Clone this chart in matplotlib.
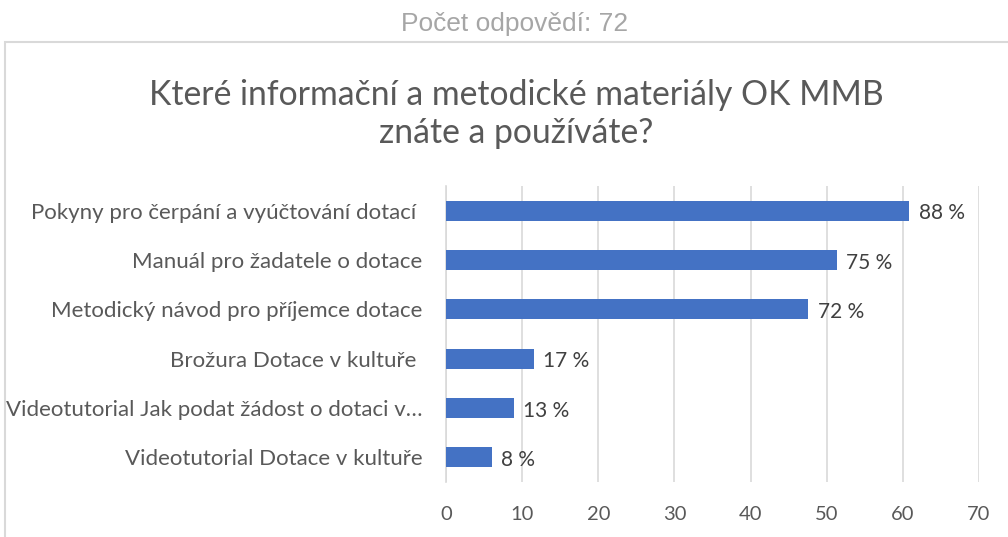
import matplotlib
matplotlib.use("Agg")
import matplotlib.pyplot as plt
from matplotlib.patches import Rectangle

categories = [
    "Pokyny pro čerpání a vyúčtování dotací ",
    "Manuál pro žadatele o dotace",
    "Metodický návod pro příjemce dotace",
    "Brožura Dotace v kultuře ",
    "Videotutorial Jak podat žádost o dotaci v…",
    "Videotutorial Dotace v kultuře",
]
values = [60.8, 51.3, 47.6, 11.5, 8.9, 6.0]
value_labels = ["88 %", "75 %", "72 %", "17 %", "13 %", "8 %"]
xticks = [0, 10, 20, 30, 40, 50, 60, 70]
header = "Počet odpovědí: 72"
title = "Které informační a metodické materiály OK MMB\nznáte a používáte?"

W, H = 1008, 537
fig = plt.figure(figsize=(W / 100, H / 100), dpi=100)
plt.rcParams['font.family'] = ['Lato', 'DejaVu Sans']

# outer chart box
fig.patches.append(Rectangle((5 / W, -0.1), 1.2, 1 - 41.5 / H + 0.1,
                             transform=fig.transFigure, fill=False,
                             edgecolor='#d9d9d9', linewidth=1.5))
fig.text(515 / W, 1 - 24 / H, header, ha='center', va='center',
         fontsize=19, color='#a6a6a6', family=['Liberation Sans', 'DejaVu Sans'])
fig.text(516 / W, 1 - 114 / H, title, ha='center', va='center',
         fontsize=24.3, color='#595959', linespacing=1.2)

ax = fig.add_axes([446 / W, 1 - 482 / H, (979 - 446) / W, (482 - 186) / H])
ypos = list(range(len(categories)))
ax.barh(ypos, values, height=0.41, color='#4472C4', zorder=3)
ax.set_ylim(len(categories) - 0.5, -0.5)
ax.set_xlim(0, 70)
ax.set_xticks(xticks)
ax.set_xticklabels([str(t) for t in xticks])
ax.set_yticks(ypos)
ax.set_yticklabels(categories)
ax.tick_params(axis='both', length=0, colors='#595959')
ax.tick_params(axis='y', pad=17, labelsize=16)
ax.tick_params(axis='x', pad=17, labelsize=14.5)
ax.grid(axis='x', color='#d9d9d9', linewidth=1.2, zorder=0)
for s in ['top', 'right', 'bottom']:
    ax.spines[s].set_visible(False)
ax.spines['left'].set_color('#d9d9d9')
ax.spines['left'].set_linewidth(1.2)

for y, v, lab in zip(ypos, values, value_labels):
    ax.annotate(lab, (v, y), xytext=(7, -2), textcoords='offset points',
                ha='left', va='center', fontsize=15, color='#404040')

fig.savefig("out.png", dpi=100)
